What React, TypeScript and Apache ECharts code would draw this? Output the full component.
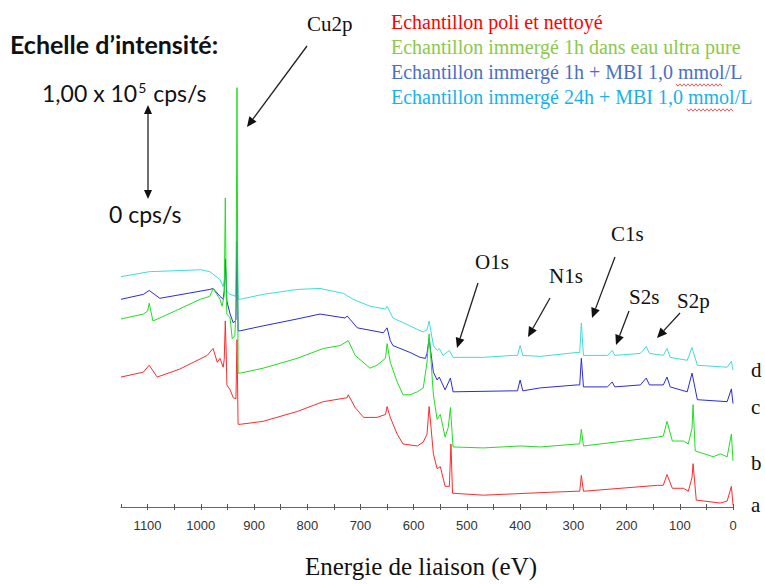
import React, { useEffect, useRef } from "react";
import * as echarts from "echarts";

// Binding energy (eV) vs intensity (arbitrary offset units)
const seriesNames = [
  "Echantillon poli et nettoyé",
  "Echantillon immergé 1h dans eau ultra pure",
  "Echantillon immergé 1h + MBI 1,0 mmol/L",
  "Echantillon immergé 24h + MBI 1,0 mmol/L",
];
const seriesColors = ["#ff2a2a", "#22dd22", "#2b2bdd", "#3fdcdc"];
const legendColors = ["#ff0000", "#8cc84b", "#4a6fc4", "#16b2ee"];
const curveLetters = ["a", "b", "c", "d"];

const curveA: [number, number][] = [
  [1150, 132], [1108, 137], [1097, 144], [1082, 132], [1040, 140], [988, 154], [977, 161], [969, 147],
  [964, 151], [958, 142], [956, 150], [954, 189], [952, 150], [951, 124], [945, 119], [939, 111],
  [934, 110], [932, 170], [930, 84], [926, 84], [883, 87], [819, 97], [770, 107], [725, 111],
  [723, 114], [710, 101], [694, 91], [669, 91], [653, 94], [650, 102], [644, 91], [631, 74],
  [620, 64], [593, 62], [582, 66], [575, 74], [571, 102], [563, 54], [556, 39], [550, 41],
  [541, 21], [533, 21], [530, 64], [527, 14], [469, 12], [343, 15], [293, 16], [288, 16],
  [285, 32], [281, 16], [142, 22], [131, 22], [124, 33], [114, 19], [93, 19], [84, 16],
  [77, 30], [75, 44], [69, 7], [24, 4], [11, 6], [3, 21], [0, 2],
];
const curveB: [number, number][] = [
  [1150, 191], [1108, 196], [1100, 199], [1097, 207], [1090, 189], [1077, 192], [1001, 211],
  [983, 214], [977, 222], [964, 211], [960, 204], [956, 215], [954, 314], [952, 210], [951, 196],
  [945, 192], [941, 171], [936, 174], [934, 200], [932, 426], [930, 136], [926, 136], [883, 141],
  [819, 151], [770, 161], [738, 164], [723, 169], [710, 154], [682, 141], [669, 144], [653, 151],
  [650, 166], [644, 147], [631, 127], [620, 114], [607, 114], [593, 117], [582, 121], [575, 147],
  [571, 176], [563, 114], [556, 89], [550, 94], [541, 71], [535, 81], [531, 101], [526, 61],
  [469, 60], [400, 62], [362, 61], [293, 64], [288, 64], [285, 79], [281, 62], [142, 71],
  [131, 72], [124, 87], [114, 67], [93, 67], [84, 64], [77, 80], [75, 104], [71, 57], [37, 51],
  [24, 54], [11, 51], [3, 74], [0, 47],
];
const curveC: [number, number][] = [
  [1150, 211], [1108, 216], [1097, 220], [1077, 212], [983, 221], [977, 222], [964, 214],
  [958, 211], [956, 220], [954, 252], [952, 225], [951, 209], [945, 196], [939, 187], [934, 190],
  [932, 270], [930, 179], [926, 179], [883, 184], [819, 191], [776, 196], [729, 192], [725, 194],
  [706, 182], [657, 177], [650, 182], [644, 169], [639, 164], [607, 157], [588, 152], [578, 151],
  [575, 156], [571, 171], [563, 137], [556, 129], [552, 132], [541, 119], [531, 131], [526, 117],
  [413, 118], [405, 118], [400, 129], [395, 118], [362, 121], [293, 124], [288, 124], [285, 151],
  [281, 122], [236, 122], [227, 127], [222, 122], [174, 124], [163, 131], [157, 124], [131, 124],
  [124, 132], [118, 122], [86, 117], [77, 136], [67, 109], [11, 107], [3, 120], [0, 105],
];
const curveD: [number, number][] = [
  [1150, 234], [1097, 239], [1000, 241], [983, 239], [964, 231], [958, 224], [956, 230],
  [954, 249], [952, 226], [951, 219], [945, 216], [934, 214], [932, 300], [930, 211], [926, 211],
  [883, 216], [819, 221], [776, 222], [732, 217], [714, 211], [682, 204], [653, 201], [650, 204],
  [639, 192], [607, 184], [588, 179], [582, 178], [575, 180], [571, 189], [563, 164], [556, 159],
  [552, 161], [545, 154], [533, 159], [526, 152], [469, 152], [413, 154], [405, 154], [400, 164],
  [395, 154], [362, 153], [293, 157], [288, 157], [285, 187], [281, 154], [236, 154], [227, 159],
  [222, 154], [174, 156], [163, 163], [157, 156], [131, 154], [124, 161], [118, 152], [86, 149],
  [77, 162], [67, 144], [11, 142], [3, 148], [0, 139],
];
const curves = [curveA, curveB, curveC, curveD];
const drawOrder = [0, 3, 2, 1];

const xMin = 0;
const xMax = 1150;
const xTickStep = 50;
const xLabelStep = 100;

// Peak annotations: label, label position, arrow start, arrow tip
const peakLabels = [
  { text: "Cu2p", x: 307, y: 24, from: [307, 46], to: [247, 127] },
  { text: "O1s", x: 475, y: 262, from: [478, 283], to: [457, 348] },
  { text: "N1s", x: 549, y: 276, from: [550, 298], to: [528, 337] },
  { text: "C1s", x: 611, y: 234, from: [615, 257], to: [592, 318] },
  { text: "S2s", x: 629, y: 297, from: [629, 311], to: [616, 345] },
  { text: "S2p", x: 677, y: 301, from: [680, 313], to: [657, 338] },
];
const letterY = [505, 463, 407, 370];

function arrowHead(x1: number, y1: number, x2: number, y2: number, len = 10, half = 4.5) {
  const dx = x2 - x1, dy = y2 - y1;
  const d = Math.sqrt(dx * dx + dy * dy);
  const ux = dx / d, uy = dy / d;
  const bx = x2 - ux * len, by = y2 - uy * len;
  return {
    base: [bx, by],
    poly: [[x2, y2], [bx - uy * half, by + ux * half], [bx + uy * half, by - ux * half]],
  };
}

function arrowElems(x1: number, y1: number, x2: number, y2: number) {
  const h = arrowHead(x1, y1, x2, y2);
  return [
    { type: "line", shape: { x1, y1, x2: h.base[0], y2: h.base[1] }, style: { stroke: "#222", lineWidth: 1.3 } },
    { type: "polygon", shape: { points: h.poly }, style: { fill: "#111" } },
  ];
}

function squiggle(x0: number, x1: number, y: number) {
  const pts: number[][] = [];
  let up = true;
  for (let x = x0; x <= x1; x += 2) {
    pts.push([x, up ? y - 1.2 : y + 1.2]);
    up = !up;
  }
  return { type: "polyline", shape: { points: pts }, style: { stroke: "#e03030", lineWidth: 0.8, fill: null } };
}

export default function App() {
  const ref = useRef<HTMLDivElement>(null);
  useEffect(() => {
    if (!ref.current) return;
    const chart = echarts.init(ref.current, undefined, { renderer: "svg" });
    const graphic: any[] = [];
    graphic.push({
      type: "text", x: 10, y: 44,
      style: { text: "Echelle d’intensité:", font: "bold 25px Lato", fill: "#111", textVerticalAlign: "middle" },
    });
    graphic.push({
      type: "text", x: 42, y: 93,
      style: {
        text: "{n|1,00 x 10}{s|5}{n| cps/s}",
        textVerticalAlign: "middle",
        rich: {
          n: { font: "23px Lato", fill: "#111" },
          s: { font: "14px Lato", fill: "#111", padding: [0, 1, 11, 1] },
        },
      },
    });
    graphic.push({
      type: "text", x: 109, y: 214,
      style: { text: "0 cps/s", font: "23px Lato", fill: "#111", textVerticalAlign: "middle" },
    });
    // double arrow of the intensity scale
    const up = arrowHead(148, 150, 148, 105, 9, 4);
    const dn = arrowHead(148, 150, 148, 199, 9, 4);
    graphic.push({ type: "line", shape: { x1: 148, y1: up.base[1], x2: 148, y2: dn.base[1] }, style: { stroke: "#222", lineWidth: 1.3 } });
    graphic.push({ type: "polygon", shape: { points: up.poly }, style: { fill: "#111" } });
    graphic.push({ type: "polygon", shape: { points: dn.poly }, style: { fill: "#111" } });

    peakLabels.forEach((p) => {
      graphic.push({
        type: "text", x: p.x, y: p.y,
        style: { text: p.text, font: "21px 'Liberation Serif'", fill: "#111", textVerticalAlign: "middle" },
      });
      arrowElems(p.from[0], p.from[1], p.to[0], p.to[1]).forEach((e) => graphic.push(e));
    });
    curveLetters.forEach((l, i) => {
      graphic.push({
        type: "text", x: 751, y: letterY[i],
        style: { text: l, font: "21px 'Liberation Serif'", fill: "#111", textVerticalAlign: "middle" },
      });
    });
    graphic.push(squiggle(676, 722, 85));
    graphic.push(squiggle(687, 733, 110));

    const xAxisBase = {
      type: "value",
      inverse: true,
      min: xMin,
      max: xMax,
      interval: xTickStep,
      splitLine: { show: false },
    };

    chart.setOption({
      animation: false,
      backgroundColor: "#ffffff",
      grid: { left: 121, right: 32, top: 64, bottom: 70 },
      legend: {
        orient: "vertical",
        left: 386,
        top: 12,
        padding: 0,
        icon: "none",
        itemWidth: 0,
        itemHeight: 20,
        itemGap: 5,
        selectedMode: false,
        data: seriesNames.map((n, i) => ({
          name: n,
          textStyle: { color: legendColors[i] },
        })),
        textStyle: { fontFamily: "Liberation Serif", fontSize: 20, lineHeight: 20 },
      },
      xAxis: [
        {
          ...xAxisBase,
          name: "Energie de liaison (eV)",
          nameLocation: "middle",
          nameGap: 47,
          nameTextStyle: { fontFamily: "Liberation Serif", fontSize: 25, color: "#111", padding: [0, 12, 0, 0] },
          axisLine: { show: true, lineStyle: { color: "#666", width: 1.2 } },
          axisTick: { show: true, length: 3, lineStyle: { color: "#555" } },
          axisLabel: {
            margin: 12,
            fontFamily: "Liberation Sans",
            fontSize: 13,
            color: "#333",
            showMaxLabel: false,
            formatter: (v: number) => (v % xLabelStep === 0 && v <= 1100 ? String(v) : ""),
          },
        },
        {
          ...xAxisBase,
          position: "bottom",
          axisLine: { show: false },
          axisTick: { show: true, inside: true, length: 3, lineStyle: { color: "#555" } },
          axisLabel: { show: false },
        },
      ],
      yAxis: { type: "value", min: 0, max: 450, show: false },
      series: drawOrder.map((i) => ({
        name: seriesNames[i],
        type: "line",
        data: curves[i],
        showSymbol: false,
        symbol: "none",
        lineStyle: { color: seriesColors[i], width: 1 },
        itemStyle: { color: seriesColors[i] },
        z: 2,
      })),
      graphic,
    });
    return () => chart.dispose();
  }, []);
  return <div ref={ref} style={{ position: "fixed", left: 0, top: 0, width: 765, height: 584 }} />;
}
